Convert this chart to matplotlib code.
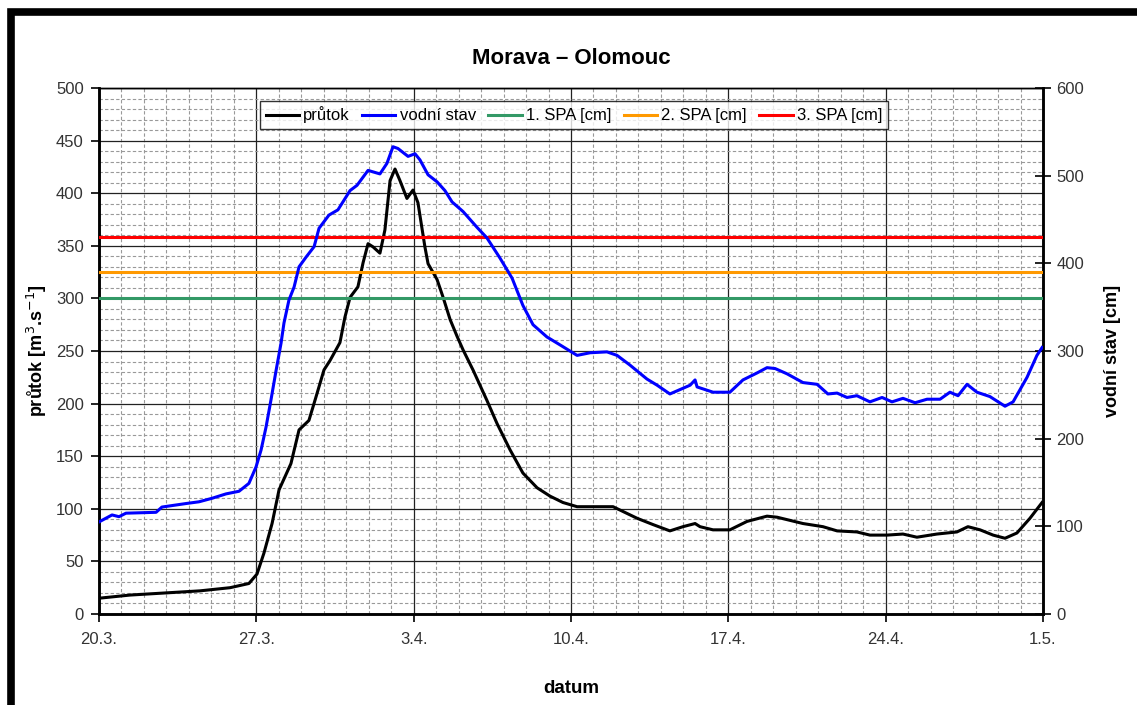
import matplotlib
matplotlib.use("Agg")
import matplotlib.pyplot as plt
from matplotlib.ticker import MultipleLocator, FixedLocator
from matplotlib.patches import Rectangle

plt.rcParams['font.family'] = ['Liberation Sans', 'DejaVu Sans']

# ---- data (days after 20.3.) ----
prutok_days = [0, 1.38, 2.94, 4.49, 5.83, 6.67, 7.03, 7.34, 7.70, 8.01, 8.54, 8.90, 9.34, 9.65,
               10.01, 10.28, 10.72, 10.94, 11.17, 11.52, 11.75, 11.97, 12.19, 12.50, 12.72, 12.95,
               13.17, 13.39, 13.70, 13.97, 14.19, 14.50, 14.64, 15.04, 15.31, 15.62, 15.93, 16.20,
               16.64, 17.26, 17.71, 18.29, 18.86, 19.49, 20.07, 20.64, 21.27, 21.85, 22.87, 23.94,
               24.65, 25.40, 25.98, 26.52, 26.74, 27.32, 28.07, 28.83, 29.72, 30.17, 31.32, 32.21,
               32.84, 33.72, 34.30, 35.06, 35.77, 36.39, 37.28, 38.17, 38.66, 39.20, 39.78, 40.31,
               40.84, 41.42, 41.96]
prutok = [15, 18, 20, 22, 25, 29, 38, 58, 86, 118, 143, 175, 184, 206,
          232, 241, 258, 282, 301, 311, 334, 352, 349, 343, 365, 412,
          423, 412, 395, 403, 391, 349, 333, 318, 301, 280, 264, 251,
          232, 203, 181, 156, 134, 120, 112, 106, 102, 102, 102, 91,
          85, 79, 83, 86, 83, 80, 80, 88, 93, 92, 86, 83,
          79, 78, 75, 75, 76, 73, 76, 78, 83, 80, 75, 72,
          77, 91, 106]

stav_days = [0, 0.58, 0.89, 1.20, 2.54, 2.80, 3.87, 4.45, 5.03, 5.65, 6.23, 6.67, 6.99, 7.21,
             7.43, 7.65, 7.88, 8.10, 8.23, 8.45, 8.68, 8.90, 9.21, 9.57, 9.79, 10.23, 10.63,
             11.17, 11.48, 11.97, 12.50, 12.81, 13.08, 13.30, 13.75, 14.06, 14.28, 14.64, 15.04,
             15.39, 15.71, 16.20, 16.82, 17.26, 17.84, 18.38, 18.86, 19.31, 19.93, 20.51, 21.27,
             21.85, 22.60, 23.05, 23.62, 24.38, 24.83, 25.40, 25.85, 26.30, 26.52, 26.61, 27.32,
             28.07, 28.65, 29.28, 29.72, 30.08, 30.61, 31.32, 31.95, 32.43, 32.84, 33.28, 33.72,
             34.30, 34.84, 35.28, 35.77, 36.31, 36.84, 37.42, 37.86, 38.22, 38.62, 39.06, 39.64,
             40.31, 40.67, 41.29, 41.73, 41.96]
vodni_stav = [105, 113, 111, 115, 116, 122, 126, 128, 132, 137, 140, 149, 168, 187,
              213, 244, 278, 309, 332, 358, 373, 396, 407, 419, 440, 455, 461,
              483, 489, 506, 502, 514, 533, 531, 522, 525, 518, 501, 493,
              483, 470, 459, 441, 429, 406, 383, 352, 330, 316, 307, 295,
              298, 299, 295, 284, 268, 261, 251, 256, 261, 267, 259, 253,
              253, 267, 275, 281, 280, 274, 264, 262, 251, 252, 247, 249,
              242, 247, 242, 246, 241, 245, 245, 253, 249, 262, 253, 248,
              237, 242, 270, 295, 304]

spa_levels = [360, 390, 430]
spa_labels = ["1. SPA [cm]", "2. SPA [cm]", "3. SPA [cm]"]
spa_colors = ["#339966", "#FF9900", "#FF0000"]

tick_days = [0, 7, 14, 21, 28, 35, 42]
tick_labels = ["20.3.", "27.3.", "3.4.", "10.4.", "17.4.", "24.4.", "1.5."]

W, H = 1137, 705
fig = plt.figure(figsize=(W / 100, H / 100), dpi=100)
fig.patch.set_facecolor("white")
ax = fig.add_axes([99 / W, 1 - 614 / H, (1043 - 99) / W, (614 - 88) / H])
ax2 = ax.twinx()

ax.set_xlim(0, 42)
ax.set_ylim(0, 500)
ax2.set_ylim(0, 600)

# grid
ax.xaxis.set_major_locator(FixedLocator(tick_days))
ax.set_xticklabels(tick_labels)
ax.xaxis.set_minor_locator(MultipleLocator(1))
ax.yaxis.set_major_locator(MultipleLocator(50))
ax.yaxis.set_minor_locator(MultipleLocator(10))
ax.grid(which="major", color="#222222", lw=0.9, ls="-")
ax.grid(which="minor", color="#999999", lw=0.8, ls=(0, (3, 2)))
ax.set_axisbelow(True)
ax2.yaxis.set_major_locator(MultipleLocator(100))

tick_color = "#333333"
ax.tick_params(axis="both", which="major", direction="out", length=6, width=1.2,
               labelsize=12, labelcolor=tick_color, color="black")
ax.tick_params(axis="both", which="minor", length=0)
ax.tick_params(axis="x", pad=7)
ax.tick_params(axis="y", pad=5)
ax2.tick_params(axis="y", which="major", direction="inout", length=11, width=1.2,
                labelsize=12, labelcolor=tick_color, pad=4)

for a in (ax, ax2):
    for s in ("left", "bottom", "right"):
        a.spines[s].set_linewidth(1.8)
    a.spines["top"].set_linewidth(1.0)

# lines
l1, = ax.plot(prutok_days, prutok, color="black", lw=2.2, label="průtok", zorder=5)
l2, = ax2.plot(stav_days, vodni_stav, color="#0000FF", lw=2.2, label="vodní stav", zorder=5)
handles = [l1, l2]
for lev, lab, col in zip(spa_levels, spa_labels, spa_colors):
    h = ax2.axhline(lev, color=col, lw=2.2, label=lab, zorder=3)
    handles.append(h)

leg = ax2.legend(handles=handles, loc="upper center", bbox_to_anchor=(0.503, 0.976),
                 ncol=5, frameon=True, fancybox=False, edgecolor="black", fontsize=12,
                 handlelength=2.0, handletextpad=0.25, columnspacing=0.75,
                 borderpad=0.35, borderaxespad=0)
leg.get_frame().set_linewidth(1.0)
leg.set_zorder(10)

ax.set_title("Morava – Olomouc", fontsize=16, fontweight="bold", pad=17)
ax.set_ylabel("průtok [m$^{3}$.s$^{-1}$]", fontsize=13, fontweight="bold", labelpad=5)
ax2.set_ylabel("vodní stav [cm]", fontsize=13, fontweight="bold", labelpad=14)
ax.set_xlabel("datum", fontsize=13.5, fontweight="bold", labelpad=24)

# outer black frame (cropped on right and bottom)
fig.add_artist(Rectangle((10.5 / W, -0.1), 1.5, 1.1 - 12 / H, transform=fig.transFigure,
                         fill=False, lw=5.5, ec="black"))

fig.savefig("out.png", dpi=100, facecolor="white")
